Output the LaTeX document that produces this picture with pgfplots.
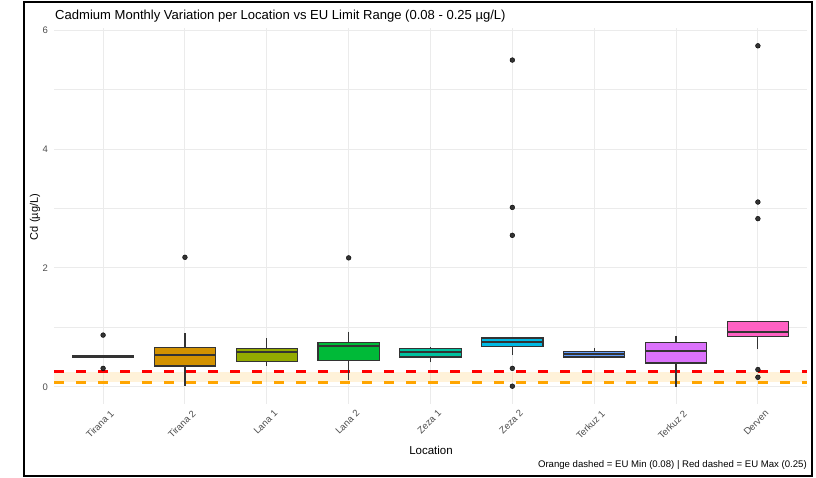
\documentclass[border=0pt]{standalone}
\usepackage{pgfplots}
\pgfplotsset{compat=1.18}
\usepgfplotslibrary{statistics}
\usepackage{fontspec}
\setmainfont{Liberation Sans}

\definecolor{c1}{HTML}{F8766D}
\definecolor{c2}{HTML}{D39200}
\definecolor{c3}{HTML}{93AA00}
\definecolor{c4}{HTML}{00BA38}
\definecolor{c5}{HTML}{00C19F}
\definecolor{c6}{HTML}{00B9E3}
\definecolor{c7}{HTML}{619CFF}
\definecolor{c8}{HTML}{DB72FB}
\definecolor{c9}{HTML}{FF61C3}
\definecolor{gridc}{HTML}{EBEBEB}
\definecolor{txt}{HTML}{4D4D4D}
\definecolor{boxline}{HTML}{333333}
\definecolor{euorange}{HTML}{FFA500}
\definecolor{eured}{HTML}{FF0000}

\pgfplotsset{
  cdbox/.style={
    draw=boxline, line width=1.2pt, solid,
    boxplot/draw direction=y,
    boxplot/box extend=0.75,
    boxplot/whisker extend=0,
    boxplot/every median/.style={line width=2.2pt},
  },
}

\begin{document}
\begin{tikzpicture}[x=1pt,y=1pt]
\path[use as bounding box] (0,0) rectangle (816,477);
\begin{axis}[
  at={(54pt,73pt)}, anchor=south west,
  scale only axis, width=753pt, height=376pt,
  xmin=0.4, xmax=9.6, ymin=-0.29, ymax=6.04,
  axis line style={draw=none}, tick style={draw=none},
  xtick={1,2,3,4,5,6,7,8,9},
  xticklabels={Tirana 1,Tirana 2,Lana 1,Lana 2,Zeza 1,Zeza 2,Terkuz 1,Terkuz 2,Derven},
  ytick={0,2,4,6}, minor ytick={1,3,5},
  grid=both,
  major grid style={gridc, line width=1pt},
  minor grid style={gridc, line width=0.6pt},
  /pgf/number format/assume math mode=true,
  yticklabel style={font=\fontsize{9.5}{11}\selectfont, text=txt, anchor=east, inner sep=0pt, xshift=-6pt},
  xticklabel style={font=\fontsize{9.5}{11}\selectfont, text=txt, rotate=45, anchor=east, inner sep=0pt, yshift=-12pt, xshift=1pt},
  clip=false,
]
% EU range band and limits
\addplot[draw=none, fill=euorange, fill opacity=0.15] coordinates {(0.4,0.08) (9.6,0.08) (9.6,0.25) (0.4,0.25)};
\addplot[eured, line width=3pt, dash pattern=on 10pt off 12pt] coordinates {(0.4,0.25) (9.6,0.25)};
\addplot[euorange, line width=3pt, dash pattern=on 10pt off 12pt] coordinates {(0.4,0.08) (9.6,0.08)};

% boxes
\addplot[cdbox, fill=c1, boxplot prepared={draw position=1, median=0.50, lower quartile=0.49, upper quartile=0.52, lower whisker=0.49, upper whisker=0.52}] coordinates {};
\addplot[cdbox, fill=c2, boxplot prepared={draw position=2, median=0.54, lower quartile=0.35, upper quartile=0.66, lower whisker=0.02, upper whisker=0.90}] coordinates {};
\addplot[cdbox, fill=c3, boxplot prepared={draw position=3, median=0.58, lower quartile=0.43, upper quartile=0.64, lower whisker=0.35, upper whisker=0.82}] coordinates {};
\addplot[cdbox, fill=c4, boxplot prepared={draw position=4, median=0.69, lower quartile=0.44, upper quartile=0.75, lower whisker=0.12, upper whisker=0.93}] coordinates {};
\addplot[cdbox, fill=c5, boxplot prepared={draw position=5, median=0.58, lower quartile=0.50, upper quartile=0.65, lower whisker=0.41, upper whisker=0.67}] coordinates {};
\addplot[cdbox, fill=c6, boxplot prepared={draw position=6, median=0.75, lower quartile=0.68, upper quartile=0.82, lower whisker=0.53, upper whisker=0.83}] coordinates {};
\addplot[cdbox, fill=c7, boxplot prepared={draw position=7, median=0.55, lower quartile=0.50, upper quartile=0.59, lower whisker=0.50, upper whisker=0.65}] coordinates {};
\addplot[cdbox, fill=c8, boxplot prepared={draw position=8, median=0.60, lower quartile=0.40, upper quartile=0.74, lower whisker=0.00, upper whisker=0.86}] coordinates {};
\addplot[cdbox, fill=c9, boxplot prepared={draw position=9, median=0.92, lower quartile=0.84, upper quartile=1.10, lower whisker=0.63, upper whisker=1.10}] coordinates {};

% outliers
\addplot[only marks, mark=*, mark size=2.4pt, mark options={fill=boxline, draw=none}] coordinates {
  (1,0.87) (1,0.31)
  (2,2.18)
  (4,2.17)
  (6,5.50) (6,3.02) (6,2.55) (6,0.31) (6,0.01)
  (9,5.74) (9,3.11) (9,2.83) (9,0.29) (9,0.16)
};
\end{axis}
\draw[line width=2pt] (23.5,1) rectangle (812,474.5);
\node[anchor=base west, inner sep=0pt, font=\fontsize{13.05}{16}\selectfont] at (55,457) {Cadmium Monthly Variation per Location vs EU Limit Range (0.08 - 0.25 µg/L)};
\node[rotate=90, font=\fontsize{11}{13}\selectfont] at (35,260) {Cd (µg/L)};
\node[font=\fontsize{11.5}{13}\selectfont] at (431,27) {Location};
\node[anchor=east, inner sep=0pt, font=\fontsize{9.6}{11}\selectfont] at (807,12) {Orange dashed = EU Min (0.08) | Red dashed = EU Max (0.25)};
\end{tikzpicture}
\end{document}
